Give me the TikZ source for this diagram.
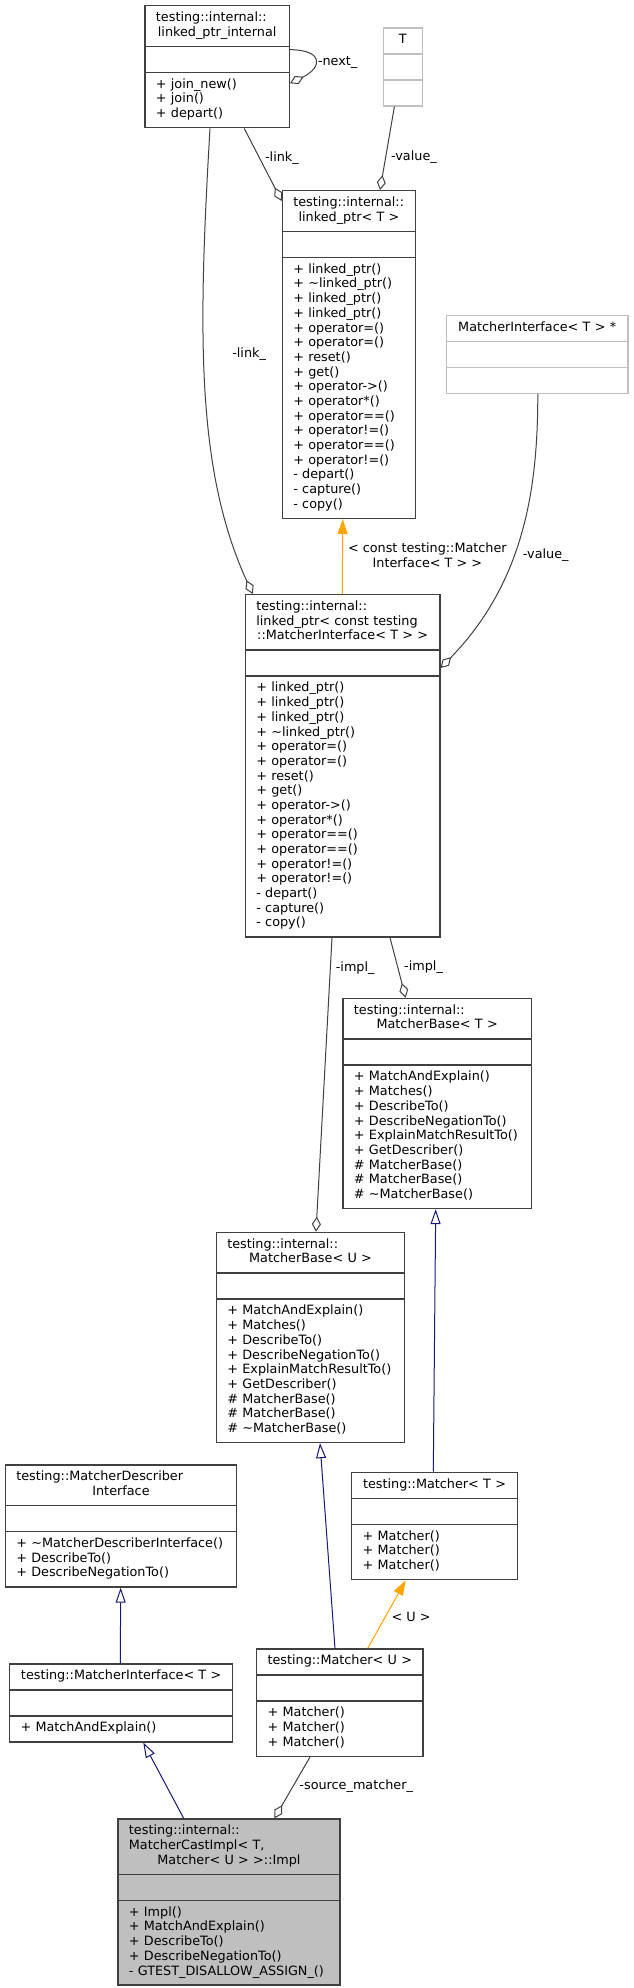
\documentclass[tikz,border=0pt]{standalone}
\usepackage{fontspec}
\setmainfont{DejaVu Sans}
\usetikzlibrary{arrows.meta,shapes.multipart}
\definecolor{umlEdge}{HTML}{404040}
\definecolor{umlLight}{HTML}{BFBFBF}
\definecolor{umlBlue}{HTML}{191970}
\definecolor{umlOrange}{HTML}{FFA500}
\newcommand{\ctr}[1]{\makebox[\hsize][c]{\strut#1}}

\begin{document}
\begin{tikzpicture}[x=1pt,y=-1pt,>=Latex]
\tikzstyle{cls}=[draw=umlEdge,fill=white,line width=1.3pt,rectangle split,rectangle split parts=3,align=left,anchor=north west,inner xsep=11pt,inner ysep=5pt,font=\fontsize{12.8}{14.69}\selectfont]
\tikzstyle{ext}=[cls,draw=umlLight]
\tikzstyle{usage}=[draw=umlEdge,line width=1pt,-{Diamond[open,length=15pt,width=9pt]}]
\tikzstyle{inherit}=[draw=umlBlue,line width=1pt,-{Triangle[open,length=15pt,width=10pt]}]
\tikzstyle{tmpl}=[draw=umlOrange,line width=1pt,-{Triangle[length=15pt,width=10pt]}]
\tikzstyle{lbl}=[inner sep=1pt,font=\fontsize{12.8}{14.69}\selectfont,text=black]
\useasboundingbox (0,0) rectangle (633,1988);

% classes
\node[cls,text width=122.4pt] (ptrinternal) at (144.3,5) {\strut testing::internal::\\\ctr{linked\_ptr\_internal}\nodepart{second}\strut\nodepart{third}\strut+ join\_new()\\+ join()\\+ depart()\strut};
\node[ext,text width=16.8pt] (tparam) at (382.7,27.3) {\ctr{T}\nodepart{second}\strut\nodepart{third}\strut};
\node[cls,text width=111.3pt] (linkedptr) at (281.7,190) {\strut testing::internal::\\\ctr{linked\_ptr< T >}\nodepart{second}\strut\nodepart{third}\strut+ linked\_ptr()\\+ \textasciitilde linked\_ptr()\\+ linked\_ptr()\\+ linked\_ptr()\\+ operator=()\\+ operator=()\\+ reset()\\+ get()\\+ operator->()\\+ operator*()\\+ operator==()\\+ operator!=()\\+ operator==()\\+ operator!=()\\- depart()\\- capture()\\- copy()\strut};
\node[ext,text width=159.7pt] (ifaceptr) at (445.7,314.7) {\ctr{MatcherInterface< T > *}\nodepart{second}\strut\nodepart{third}\strut};
\node[cls,text width=172.6pt] (constptr) at (244.7,594) {\strut testing::internal::\\linked\_ptr< const testing\\\ctr{::MatcherInterface< T > >}\nodepart{second}\strut\nodepart{third}\strut+ linked\_ptr()\\+ linked\_ptr()\\+ linked\_ptr()\\+ \textasciitilde linked\_ptr()\\+ operator=()\\+ operator=()\\+ reset()\\+ get()\\+ operator->()\\+ operator*()\\+ operator==()\\+ operator==()\\+ operator!=()\\+ operator!=()\\- depart()\\- capture()\\- copy()\strut};
\node[cls,text width=166.4pt] (matcherbaset) at (342.3,997.7) {\strut testing::internal::\\\ctr{MatcherBase< T >}\nodepart{second}\strut\nodepart{third}\strut+ MatchAndExplain()\\+ Matches()\\+ DescribeTo()\\+ DescribeNegationTo()\\+ ExplainMatchResultTo()\\+ GetDescriber()\\\# MatcherBase()\\\# MatcherBase()\\\# \textasciitilde MatcherBase()\strut};
\node[cls,text width=166.3pt] (matcherbaseu) at (215.7,1231.7) {\strut testing::internal::\\\ctr{MatcherBase< U >}\nodepart{second}\strut\nodepart{third}\strut+ MatchAndExplain()\\+ Matches()\\+ DescribeTo()\\+ DescribeNegationTo()\\+ ExplainMatchResultTo()\\+ GetDescriber()\\\# MatcherBase()\\\# MatcherBase()\\\# \textasciitilde MatcherBase()\strut};
\node[cls,text width=209.3pt] (describer) at (4.7,1464.3) {\strut testing::MatcherDescriber\\\ctr{Interface}\nodepart{second}\strut\nodepart{third}\strut+~\textasciitilde MatcherDescriberInterface()\\+ DescribeTo()\\+ DescribeNegationTo()\strut};
\node[cls,text width=143.7pt] (matchert) at (351,1471.7) {\ctr{testing::Matcher< T >}\nodepart{second}\strut\nodepart{third}\strut+ Matcher()\\+ Matcher()\\+ Matcher()\strut};
\node[cls,text width=201.2pt] (matcheriface) at (8.9,1663.3) {\ctr{testing::MatcherInterface< T >}\nodepart{second}\strut\nodepart{third}\strut+ MatchAndExplain()\strut};
\node[cls,text width=144.3pt] (matcheru) at (256,1648.3) {\ctr{testing::Matcher< U >}\nodepart{second}\strut\nodepart{third}\strut+ Matcher()\\+ Matcher()\\+ Matcher()\strut};
\node[cls,fill=umlLight,text width=200pt] (castimpl) at (117.3,1818.3) {\strut testing::internal::\\MatcherCastImpl< T,\\\ctr{Matcher< U > >::Impl}\nodepart{second}\strut\nodepart{third}\strut+ Impl()\\+ MatchAndExplain()\\+ DescribeTo()\\+ DescribeNegationTo()\\- GTEST\_DISALLOW\_ASSIGN\_()\strut};

% members
\draw[usage] ([yshift=-44.7pt]ptrinternal.north east) .. controls +(33,0) and +(33,-16) .. ([yshift=-78.3pt]ptrinternal.north east) node[lbl,pos=.55,right=2pt]{-next\_};
\draw[usage] ([xshift=99.9pt]ptrinternal.south west) -- node[lbl,right=4pt,pos=.41]{-link\_} ([yshift=-11pt]linkedptr.north west);
\draw[usage] ([xshift=11.7pt]tparam.south west) -- node[lbl,right=4pt,pos=.61]{-value\_} ([xshift=98.3pt]linkedptr.north west);
\draw[usage] ([xshift=65.7pt]ptrinternal.south west) .. controls +(-12,204) and +(-56.7,-124) .. ([xshift=8pt]constptr.north west) node[lbl,pos=.42,right=27pt]{-link\_};
\draw[usage] ([xshift=92.1pt]ifaceptr.south west) .. controls +(0,89) and +(85.7,-88) .. ([yshift=-74pt]constptr.north east) node[lbl,pos=.585,right=8pt]{-value\_};
\draw[usage] ([xshift=87.3pt]constptr.south west) -- node[lbl,right=4pt,pos=.104]{-impl\_} ([xshift=100.3pt]matcherbaseu.north west);
\draw[usage] ([xshift=145.3pt]constptr.south west) -- node[lbl,right=5pt,pos=.49]{-impl\_} ([xshift=63.4pt]matcherbaset.north west);
\draw[usage] ([xshift=54pt]matcheru.south west) -- node[lbl,right=5pt,pos=.48]{-source\_matcher\_} ([xshift=157.2pt]castimpl.north west);
% templates
\draw[tmpl] ([xshift=97.6pt]constptr.north west) -- node[lbl,right=4pt,align=center,pos=.52]{< const testing::Matcher\\Interface< T > >} ([xshift=61pt]linkedptr.south west);
\draw[tmpl] ([xshift=111.7pt]matcheru.north west) -- node[lbl,right=5pt,pos=.46]{< U >} ([xshift=54.7pt]matchert.south west);
% inheritance
\draw[inherit] ([xshift=79pt]matcheru.north west) -- ([xshift=104.3pt]matcherbaseu.south west);
\draw[inherit] ([xshift=82.3pt]matchert.north west) -- ([xshift=93.4pt]matcherbaset.south west);
\draw[inherit] ([xshift=111.4pt]matcheriface.north west) -- ([xshift=116pt]describer.south west);
\draw[inherit] ([xshift=66.4pt]castimpl.north west) -- ([xshift=134.4pt]matcheriface.south west);
\end{tikzpicture}
\end{document}
